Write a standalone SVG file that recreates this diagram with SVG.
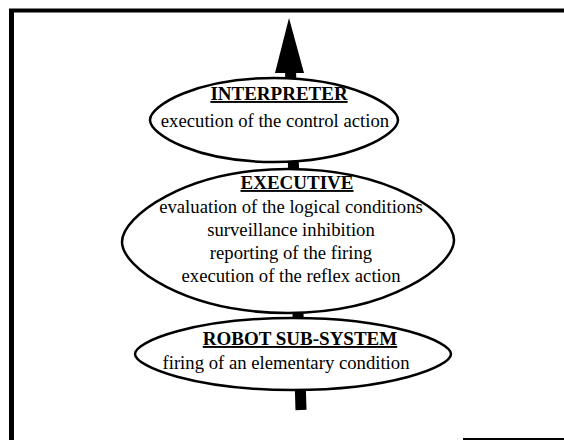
<svg xmlns="http://www.w3.org/2000/svg" width="564" height="440" viewBox="0 0 564 440">
  <style>
    .frame { fill: none; stroke: #000; }
    .node .oval { fill: #fff; stroke: #000; stroke-width: 2.5; }
    .title { font-family: "Liberation Serif", "Times New Roman", serif; font-weight: bold; font-size: 19px; text-anchor: middle; text-decoration: underline; fill: #000; }
    .body { font-family: "Liberation Serif", "Times New Roman", serif; font-size: 18.7px; text-anchor: middle; fill: #000; }
    .shaft { stroke: #000; stroke-width: 11; fill: none; }
  </style>
  <rect width="564" height="440" fill="#fff"/>

  <!-- page frame: left and top edges, short bottom piece -->
  <g id="frame">
    <line class="frame" x1="11.5" y1="10" x2="11.5" y2="440" stroke-width="5"/>
    <line class="frame" x1="9" y1="10.5" x2="564" y2="10.5" stroke-width="4"/>
    <line class="frame" x1="463" y1="439" x2="564" y2="439" stroke-width="2"/>
  </g>

  <!-- flow line with upward arrowhead -->
  <g id="connectors">
    <line class="shaft" x1="290.5" y1="70" x2="301" y2="410"/>
    <polygon points="289,18 275,73 304,73" fill="#000"/>
  </g>

  <!-- ovals with slightly pointed side ends -->
  <g id="interpreter" class="node">
    <path class="oval" d="M150,120 C150,105.3 197.1,78 274,78 C350.9,78 398,105.3 398,120 C398,134.7 350.9,162 274,162 C197.1,162 150,134.7 150,120 Z"/>
    <text class="title" x="279" y="100">INTERPRETER</text>
    <text class="body" x="275" y="127">execution of the control action</text>
  </g>

  <g id="executive" class="node">
    <path class="oval" d="M122,242 C122,216.8 185.1,169 288,169 C390.9,169 454,214.8 454,240 C454,265.2 390.9,313 288,313 C185.1,313 122,267.2 122,242 Z"/>
    <text class="title" x="297" y="189">EXECUTIVE</text>
    <text class="body" x="291" y="213">evaluation of the logical conditions</text>
    <text class="body" x="291" y="236">surveillance inhibition</text>
    <text class="body" x="291" y="259">reporting of the firing</text>
    <text class="body" x="291" y="282">execution of the reflex action</text>
  </g>

  <g id="robot-sub-system" class="node">
    <path class="oval" d="M135,354 C135,341.4 195,318 293,318 C391,318 451,341.4 451,354 C451,366.6 391,390 293,390 C195,390 135,366.6 135,354 Z"/>
    <text class="title" x="300" y="345">ROBOT SUB-SYSTEM</text>
    <text class="body" x="286" y="369">firing of an elementary condition</text>
  </g>
</svg>
